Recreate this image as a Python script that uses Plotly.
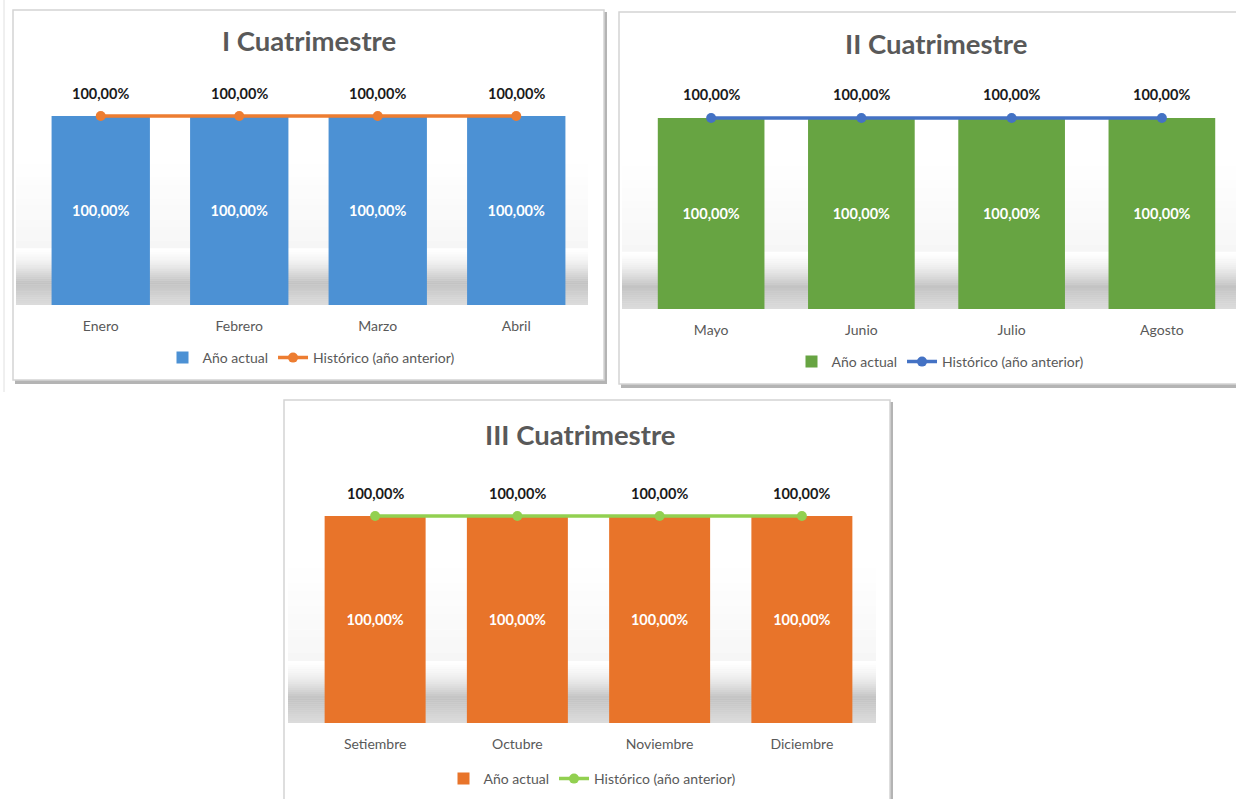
import plotly.graph_objects as go

W, H = 1236, 799

# ---------------- data ----------------
titles = ["I Cuatrimestre", "II Cuatrimestre", "III Cuatrimestre"]
series_names = ["Año actual", "Histórico (año anterior)"]

months_1 = ["Enero", "Febrero", "Marzo", "Abril"]
months_2 = ["Mayo", "Junio", "Julio", "Agosto"]
months_3 = ["Setiembre", "Octubre", "Noviembre", "Diciembre"]

actual_1 = [1.0, 1.0, 1.0, 1.0]
actual_2 = [1.0, 1.0, 1.0, 1.0]
actual_3 = [1.0, 1.0, 1.0, 1.0]

hist_1 = [1.0, 1.0, 1.0, 1.0]
hist_2 = [1.0, 1.0, 1.0, 1.0]
hist_3 = [1.0, 1.0, 1.0, 1.0]

# ---------------- layout / style (pixel boxes) ----------------
panels = [
    dict(cats=months_1, bars=actual_1, line=hist_1, title=titles[0],
         bar_color="#4C91D4", line_color="#ED7D31",
         xd=(31.5, 585.5), y0=305, y100=116, xr=(-0.5, 3.5), bargap=0.29,
         title_xy=(309, 40), legend_xy=(311, 358),
         frame=(13, 10, 604, 380), band=(16, 588), legend_id="legend"),
    dict(cats=months_2, bars=actual_2, line=hist_2, title=titles[1],
         bar_color="#67A442", line_color="#4472C4",
         xd=(636, 1236), y0=309, y100=118, xr=(-0.5, 3.5 - 1 / 150), bargap=0.287,
         title_xy=(936, 43), legend_xy=(940, 362),
         frame=(619, 12, 1242, 384), band=(622, 1236), legend_id="legend2"),
    dict(cats=months_3, bars=actual_3, line=hist_3, title=titles[2],
         bar_color="#E8742A", line_color="#92D050",
         xd=(304, 873), y0=723, y100=516, xr=(-0.5, 3.5), bargap=0.296,
         title_xy=(580, 434), legend_xy=(592, 779),
         frame=(284, 400, 890, 805), band=(288, 876), legend_id="legend3"),
]

FONT = "Lato, Carlito, Calibri, 'Open Sans', sans-serif"
GRAY_TXT = "#595959"
YMAX = 1.25


def px_x(x):
    return x / W


def px_y(y):
    return 1 - y / H


fig = go.Figure()
shapes = []
annotations = []
layout_extra = {}

for i, p in enumerate(panels):
    n = i + 1
    xa = "x" if n == 1 else f"x{n}"
    ya = "y" if n == 1 else f"y{n}"
    xkey = "xaxis" if n == 1 else f"xaxis{n}"
    ykey = "yaxis" if n == 1 else f"yaxis{n}"

    # frame with shadow
    fx0, fy0, fx1, fy1 = p["frame"]
    shapes.append(dict(type="rect", xref="paper", yref="paper",
                       x0=px_x(fx0 + 2), x1=px_x(fx1 + 3), y0=px_y(fy1 + 4), y1=px_y(fy0 + 2),
                       fillcolor="#b4b4b4", line=dict(width=0), layer="below"))
    shapes.append(dict(type="rect", xref="paper", yref="paper",
                       x0=px_x(fx0), x1=px_x(fx1), y0=px_y(fy1), y1=px_y(fy0),
                       fillcolor="white", line=dict(color="#d4d4d4", width=1.5), layer="below"))

    # soft grey "floor shadow" band behind bars
    bx0, bx1 = p["band"]
    base = p["y0"]
    span = p["y0"] - p["y100"]
    nstrips = 30
    top = base - 0.30 * span
    for k in range(nstrips):
        t = (k + 0.5) / nstrips
        if t < 0.6:
            a = 0.42 * (t / 0.6) ** 1.6
        else:
            a = 0.42 - 0.18 * (t - 0.6) / 0.4
        ya0 = top + k * (base - top) / nstrips
        ya1 = top + (k + 1) * (base - top) / nstrips
        shapes.append(dict(type="rect", xref="paper", yref="paper",
                           x0=px_x(bx0), x1=px_x(bx1), y0=px_y(ya1), y1=px_y(ya0),
                           fillcolor=f"rgba(110,110,110,{a:.3f})", line=dict(width=0),
                           layer="below"))
    # faint upper haze
    top2 = base - 0.75 * span
    bot2 = base - 0.30 * span
    for k in range(12):
        t = (k + 0.5) / 12
        a = 0.06 * t
        ya0 = top2 + k * (bot2 - top2) / 12
        ya1 = top2 + (k + 1) * (bot2 - top2) / 12
        shapes.append(dict(type="rect", xref="paper", yref="paper",
                           x0=px_x(bx0), x1=px_x(bx1), y0=px_y(ya1), y1=px_y(ya0),
                           fillcolor=f"rgba(110,110,110,{a:.3f})", line=dict(width=0),
                           layer="below"))

    # axis domains
    ytop_px = p["y0"] - YMAX * (p["y0"] - p["y100"])
    layout_extra[xkey] = dict(
        domain=[px_x(p["xd"][0]), px_x(p["xd"][1])], range=list(p["xr"]),
        anchor=ya, type="category", showgrid=False, zeroline=False, showline=False,
        ticks="outside", ticklen=8, tickcolor="rgba(0,0,0,0)",
        tickfont=dict(family=FONT, size=14, color=GRAY_TXT), fixedrange=True)
    layout_extra[ykey] = dict(
        domain=[px_y(p["y0"]), px_y(ytop_px)], range=[0, YMAX], anchor=xa,
        visible=False, showgrid=False, zeroline=False, fixedrange=True)

    # bars
    fig.add_trace(go.Bar(
        x=p["cats"], y=p["bars"], name=series_names[0], xaxis=xa, yaxis=ya,
        marker=dict(color=p["bar_color"], line=dict(width=0)),
        texttemplate="%{y:.2%}", textposition="inside", insidetextanchor="middle",
        textangle=0, constraintext="none",
        textfont=dict(family=FONT, size=14.5, color="white", weight="bold"),
        legend=p["legend_id"], hoverinfo="skip"))
    # line
    fig.add_trace(go.Scatter(
        x=p["cats"], y=p["line"], name=series_names[1], xaxis=xa, yaxis=ya,
        mode="lines+markers", line=dict(color=p["line_color"], width=3.5),
        marker=dict(color=p["line_color"], size=10),
        legend=p["legend_id"], hoverinfo="skip"))

    # line data labels
    for c, v in zip(p["cats"], p["line"]):
        annotations.append(dict(
            x=c, y=v, xref=xa, yref=ya, yshift=23, showarrow=False,
            text=f"{v * 100:.2f}%".replace(".", ","),
            font=dict(family=FONT, size=14.5, color="#1a1a1a", weight="bold")))

    # title
    tx, ty = p["title_xy"]
    annotations.append(dict(
        x=px_x(tx), y=px_y(ty), xref="paper", yref="paper", showarrow=False,
        xanchor="center", yanchor="middle", text=p["title"],
        font=dict(family=FONT, size=27.5, color=GRAY_TXT, weight="bold")))

    lx, ly = p["legend_xy"]
    layout_extra[p["legend_id"]] = dict(
        orientation="h", x=px_x(lx), y=px_y(ly), xanchor="center", yanchor="middle",
        xref="paper", yref="paper", bgcolor="rgba(0,0,0,0)",
        font=dict(family=FONT, size=14, color=GRAY_TXT),
        itemwidth=30, tracegroupgap=0, traceorder="normal")

# left edge line of the screenshot
shapes.append(dict(type="line", xref="paper", yref="paper", x0=px_x(4), x1=px_x(4),
                   y0=px_y(392), y1=px_y(0), line=dict(color="#e0e0e0", width=1)))

fig.update_layout(
    width=W, height=H, autosize=False,
    margin=dict(l=0, r=0, t=0, b=0),
    paper_bgcolor="white", plot_bgcolor="rgba(0,0,0,0)",
    separators=",.",
    barmode="group",
    bargap=0.29,
    showlegend=True,
    shapes=shapes, annotations=annotations,
    font=dict(family=FONT),
    **layout_extra,
)

fig.write_html("out.html", config={"displayModeBar": False},
               post_script="document.body.style.margin='0';document.body.style.overflow='hidden';")
